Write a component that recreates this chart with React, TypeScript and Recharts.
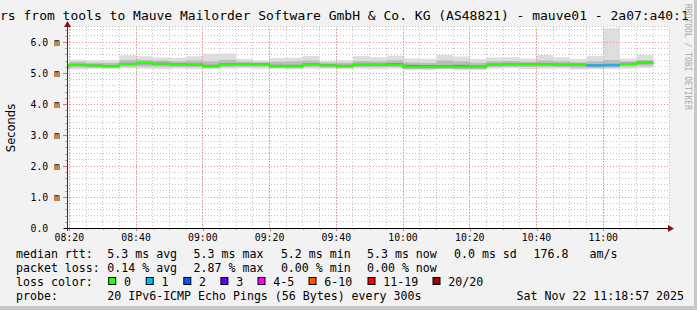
import React from "react";
import { ComposedChart, Area, Line, XAxis, YAxis, CartesianGrid, ReferenceLine } from "recharts";

// ---- data (minutes after 08:00, values in ms) ----
const binStartMin = [15, 20, 25, 30, 35, 40, 45, 50, 55, 60, 65, 70, 75, 80, 85, 90, 95, 100, 105, 110, 115, 120, 125, 130, 135, 140, 145, 150, 155, 160, 165, 170, 175, 180, 185, 190];
const binEndMin = 195;
const medianMs = [5.24, 5.26, 5.24, 5.22, 5.29, 5.32, 5.3, 5.28, 5.27, 5.22, 5.28, 5.28, 5.28, 5.22, 5.22, 5.28, 5.25, 5.22, 5.26, 5.27, 5.27, 5.19, 5.19, 5.2, 5.19, 5.19, 5.27, 5.28, 5.28, 5.28, 5.27, 5.26, 5.24, 5.25, 5.29, 5.33];
const smokeMinMs = [5.08, 5.12, 5.14, 5.13, 5.15, 5.14, 5.13, 5.14, 5.13, 5.12, 5.14, 5.15, 5.14, 5.13, 5.12, 5.14, 5.14, 5.12, 5.14, 5.13, 5.14, 5.09, 5.1, 5.11, 5.09, 5.1, 5.14, 5.15, 5.13, 5.14, 5.14, 5.11, 5.12, 5.13, 5.14, 5.16];
const smokeLo2Ms = [5.14, 5.18, 5.17, 5.16, 5.2, 5.21, 5.2, 5.19, 5.19, 5.16, 5.19, 5.2, 5.2, 5.16, 5.15, 5.19, 5.18, 5.16, 5.19, 5.19, 5.19, 5.13, 5.13, 5.14, 5.13, 5.13, 5.19, 5.2, 5.19, 5.2, 5.19, 5.17, 5.17, 5.18, 5.2, 5.23];
const smokeLo3Ms = [5.2, 5.23, 5.21, 5.19, 5.26, 5.28, 5.27, 5.25, 5.24, 5.19, 5.25, 5.25, 5.25, 5.19, 5.19, 5.25, 5.22, 5.19, 5.23, 5.24, 5.24, 5.16, 5.16, 5.17, 5.16, 5.16, 5.24, 5.25, 5.25, 5.25, 5.24, 5.23, 5.21, 5.22, 5.26, 5.3];
const smokeHi3Ms = [5.27, 5.3, 5.28, 5.26, 5.33, 5.36, 5.34, 5.32, 5.31, 5.27, 5.32, 5.32, 5.32, 5.27, 5.27, 5.32, 5.29, 5.27, 5.31, 5.31, 5.32, 5.27, 5.26, 5.26, 5.27, 5.25, 5.31, 5.32, 5.32, 5.32, 5.31, 5.31, 5.29, 5.3, 5.33, 5.37];
const smokeHi2Ms = [5.28, 5.36, 5.33, 5.32, 5.42, 5.42, 5.4, 5.38, 5.4, 5.38, 5.42, 5.37, 5.35, 5.36, 5.38, 5.4, 5.34, 5.33, 5.39, 5.38, 5.41, 5.34, 5.32, 5.4, 5.38, 5.33, 5.38, 5.39, 5.37, 5.4, 5.38, 5.35, 5.38, 5.42, 5.38, 5.42];
const smokeMaxMs = [5.33, 5.43, 5.4, 5.41, 5.57, 5.54, 5.5, 5.49, 5.54, 5.62, 5.63, 5.45, 5.4, 5.48, 5.49, 5.55, 5.39, 5.41, 5.55, 5.51, 5.56, 5.47, 5.46, 5.59, 5.53, 5.45, 5.5, 5.51, 5.47, 5.58, 5.51, 5.45, 5.55, 6.44, 5.47, 5.58];
const lostPings = [0, 0, 0, 0, 0, 0, 0, 0, 0, 0, 0, 0, 0, 0, 0, 0, 0, 0, 0, 0, 0, 0, 0, 0, 0, 0, 0, 0, 0, 0, 0, 0, 1, 1, 0, 0];

// ---- axes ----
const xDomain = [19.3, 199.7];
const xMinorTicks = [20, 25, 30, 35, 40, 45, 50, 55, 60, 65, 70, 75, 80, 85, 90, 95, 100, 105, 110, 115, 120, 125, 130, 135, 140, 145, 150, 155, 160, 165, 170, 175, 180, 185, 190, 195];
const xMajorTicks = [20, 40, 60, 80, 100, 120, 140, 160, 180];
const xTickLabels = ["08:20", "08:40", "09:00", "09:20", "09:40", "10:00", "10:20", "10:40", "11:00"];
const yDomain = [0, 6.5];
const yMinorTicks = [0, 0.2, 0.4, 0.6, 0.8, 1, 1.2, 1.4, 1.6, 1.8, 2, 2.2, 2.4, 2.6, 2.8, 3, 3.2, 3.4, 3.6, 3.8, 4, 4.2, 4.4, 4.6, 4.8, 5, 5.2, 5.4, 5.6, 5.8, 6, 6.2, 6.4];
const yMajorTicks = [0, 1, 2, 3, 4, 5, 6];
const yTickLabels = ["0.0", "1.0 m", "2.0 m", "3.0 m", "4.0 m", "5.0 m", "6.0 m"];

// ---- texts ----
const titleText = "rs from tools to Mauve Mailorder Software GmbH & Co. KG (AS48821) - mauve01 - 2a07:a40:1";
const medianRow = ["median rtt:", "5.3 ms avg", "5.3 ms max", "5.2 ms min", "5.3 ms now", "0.0 ms sd", "176.8", "am/s"];
const lossRow = ["packet loss:", "0.14 % avg", "2.87 % max", "0.00 % min", "0.00 % now"];
const lossLabels = ["0", "1", "2", "3", "4-5", "6-10", "11-19", "20/20"];
const lossColors = ["#26ff00", "#00b8ff", "#0059ff", "#5e00ff", "#ff00ff", "#ff5500", "#ff0000", "#a10000"];
const probeRow = ["probe:", "20 IPv6-ICMP Echo Pings (56 Bytes) every 300s", "Sat Nov 22 11:18:57 2025"];

// layout positions (text only)
const medianRowX = [16, 107.3, 193.6, 280.9, 367, 454, 533.5, 589.5];
const lossRowX = [16, 107.3, 193.6, 280.9, 367];
const lossBoxX = [108.7, 146.2, 183.8, 220.9, 258, 309, 368, 433];
const probeRowX = [16, 107.3, 516.5];

const MONO = "'DejaVu Sans Mono', monospace";

const rows = binStartMin.map((t, i) => ({
  t,
  med: medianMs[i],
  min: smokeMinMs[i],
  lo2: smokeLo2Ms[i],
  lo3: smokeLo3Ms[i],
  hi3: smokeHi3Ms[i],
  hi2: smokeHi2Ms[i],
  max: smokeMaxMs[i],
  loss: lostPings[i],
}));
rows.push({ ...rows[rows.length - 1], t: binEndMin });

const chartData = rows.map((r, i) => {
  const prev = i > 0 ? rows[i - 1] : null;
  const isEnd = i === rows.length - 1;
  const lineVal = (lv: number) => {
    if (!isEnd && r.loss === lv) return r.med;
    if (prev && prev.loss === lv) return prev.med;
    return null;
  };
  return {
    t: r.t,
    band1: [r.min, r.max],
    band2: [r.lo2, r.hi2],
    band3: [r.lo3, r.hi3],
    green: lineVal(0),
    blue: lineVal(1),
  };
});

const XTick = (props: any) => {
  const { x, y, payload } = props;
  const v = payload.value;
  const mi = xMajorTicks.indexOf(v);
  const major = mi >= 0;
  const xx = Math.round(x) + 0.5;
  return (
    <g>
      <line x1={xx} x2={xx} y1={y} y2={y + (major ? 3 : 2)} stroke={major ? "#e07070" : "#aaaaaa"} strokeWidth={1} shapeRendering="crispEdges" />
      {major && (
        <text x={x} y={y + 12.7} textAnchor="middle" fontFamily={MONO} fontSize={9.8} fill="#000">
          {xTickLabels[mi]}
        </text>
      )}
    </g>
  );
};

const YTick = (props: any) => {
  const { x, y, payload } = props;
  const v = payload.value;
  const mi = yMajorTicks.findIndex((m) => Math.abs(m - v) < 1e-6);
  const major = mi >= 0;
  const yy = Math.round(y) + 0.5;
  return (
    <g>
      <line x1={x - (major ? 4 : 2)} x2={x} y1={yy} y2={yy} stroke={major ? "#e07070" : "#aaaaaa"} strokeWidth={1} shapeRendering="crispEdges" />
      {major && (
        <text x={x - 36.5} y={y + 4.2} textAnchor="start" fontFamily={MONO} fontSize={9.8} fill="#000">
          {yTickLabels[mi]}
        </text>
      )}
    </g>
  );
};

export default function App() {
  return (
    <div style={{ position: "absolute", left: 0, top: 0, width: 697, height: 310, background: "#f2f2f2", overflow: "hidden" }}>
      <ComposedChart width={697} height={310} data={chartData} margin={{ top: 26.5, right: 28, bottom: 52, left: 37 }}>
        <CartesianGrid fill="#ffffff" stroke="#c4c4c4" strokeDasharray="1 2" shapeRendering="crispEdges" />
        <XAxis
          dataKey="t"
          type="number"
          domain={xDomain}
          allowDataOverflow
          ticks={xMinorTicks}
          interval={0}
          tick={<XTick />}
          tickSize={0}
          tickMargin={0}
          tickLine={false}
          axisLine={false}
          height={30}
        />
        <YAxis
          type="number"
          domain={yDomain}
          allowDataOverflow
          ticks={yMinorTicks}
          interval={0}
          tick={<YTick />}
          tickSize={0}
          tickMargin={0}
          tickLine={false}
          axisLine={false}
          width={30}
        />
        <Area type="stepAfter" dataKey="band1" fill="#dddddd" fillOpacity={1} stroke="none" isAnimationActive={false} activeDot={false} />
        <Area type="stepAfter" dataKey="band2" fill="#bcbcbc" fillOpacity={1} stroke="none" isAnimationActive={false} activeDot={false} />
        <Area type="stepAfter" dataKey="band3" fill="#8e8e8e" fillOpacity={1} stroke="none" isAnimationActive={false} activeDot={false} />
        {xMajorTicks.map((v) => (
          <ReferenceLine key={"vx" + v} x={v} stroke="#f09090" strokeDasharray="1 2" shapeRendering="crispEdges" />
        ))}
        {yMajorTicks.slice(1).map((v) => (
          <ReferenceLine key={"hy" + v} y={v} stroke="#f09090" strokeDasharray="1 2" shapeRendering="crispEdges" />
        ))}
        <Line type="stepAfter" dataKey="green" stroke={lossColors[0]} strokeWidth={2} dot={false} activeDot={false} connectNulls={false} isAnimationActive={false} />
        <Line type="stepAfter" dataKey="blue" stroke={lossColors[1]} strokeWidth={2} dot={false} activeDot={false} connectNulls={false} isAnimationActive={false} />
      </ComposedChart>

      <svg width={697} height={310} style={{ position: "absolute", left: 0, top: 0, pointerEvents: "none" }}>
        {/* frame */}
        <rect x={694} y={0} width={3} height={310} fill="#c8c8c8" />
        <rect x={0} y={306} width={697} height={4} fill="#c8c8c8" />
        {/* title */}
        <text x={0} y={20} fontFamily={MONO} fontSize={13} fill="#000">{titleText}</text>
        {/* vertical label */}
        <text x={15} y={128} transform="rotate(-90 15 128)" textAnchor="middle" fontFamily="'DejaVu Sans', sans-serif" fontSize={11.5} fill="#000">Seconds</text>
        <text x={685} y={4} transform="rotate(90 685 4)" textAnchor="start" fontFamily={MONO} fontSize={8} fill="#a8a8a8">RRDTOOL / TOBI OETIKER</text>
        {/* axes */}
        <line x1={64} x2={669} y1={228.5} y2={228.5} stroke="#000" strokeWidth={1} />
        <polygon points="668,225 674,228.5 668,232" fill="#8b1010" />
        <line x1={67.5} x2={67.5} y1={231} y2={26} stroke="#333" strokeWidth={1} />
        <polygon points="64,27 67.5,21 71,27" fill="#8b1010" />
        {/* legend */}
        {medianRow.map((s, i) => (
          <text key={"m" + i} x={medianRowX[i]} y={257.5} fontFamily={MONO} fontSize={11.6} fill="#000">{s}</text>
        ))}
        {lossRow.map((s, i) => (
          <text key={"l" + i} x={lossRowX[i]} y={271.5} fontFamily={MONO} fontSize={11.6} fill="#000">{s}</text>
        ))}
        <text x={16} y={285.5} fontFamily={MONO} fontSize={11.6} fill="#000">loss color:</text>
        {lossLabels.map((s, i) => (
          <g key={"c" + i}>
            <rect x={lossBoxX[i]} y={277.5} width={7} height={7} fill={lossColors[i]} stroke="#000" strokeWidth={1} />
            <text x={lossBoxX[i] + 15.3} y={285.5} fontFamily={MONO} fontSize={11.6} fill="#000">{s}</text>
          </g>
        ))}
        {probeRow.map((s, i) => (
          <text key={"p" + i} x={probeRowX[i]} y={299.5} fontFamily={MONO} fontSize={11.6} fill="#000">{s}</text>
        ))}
      </svg>
    </div>
  );
}
